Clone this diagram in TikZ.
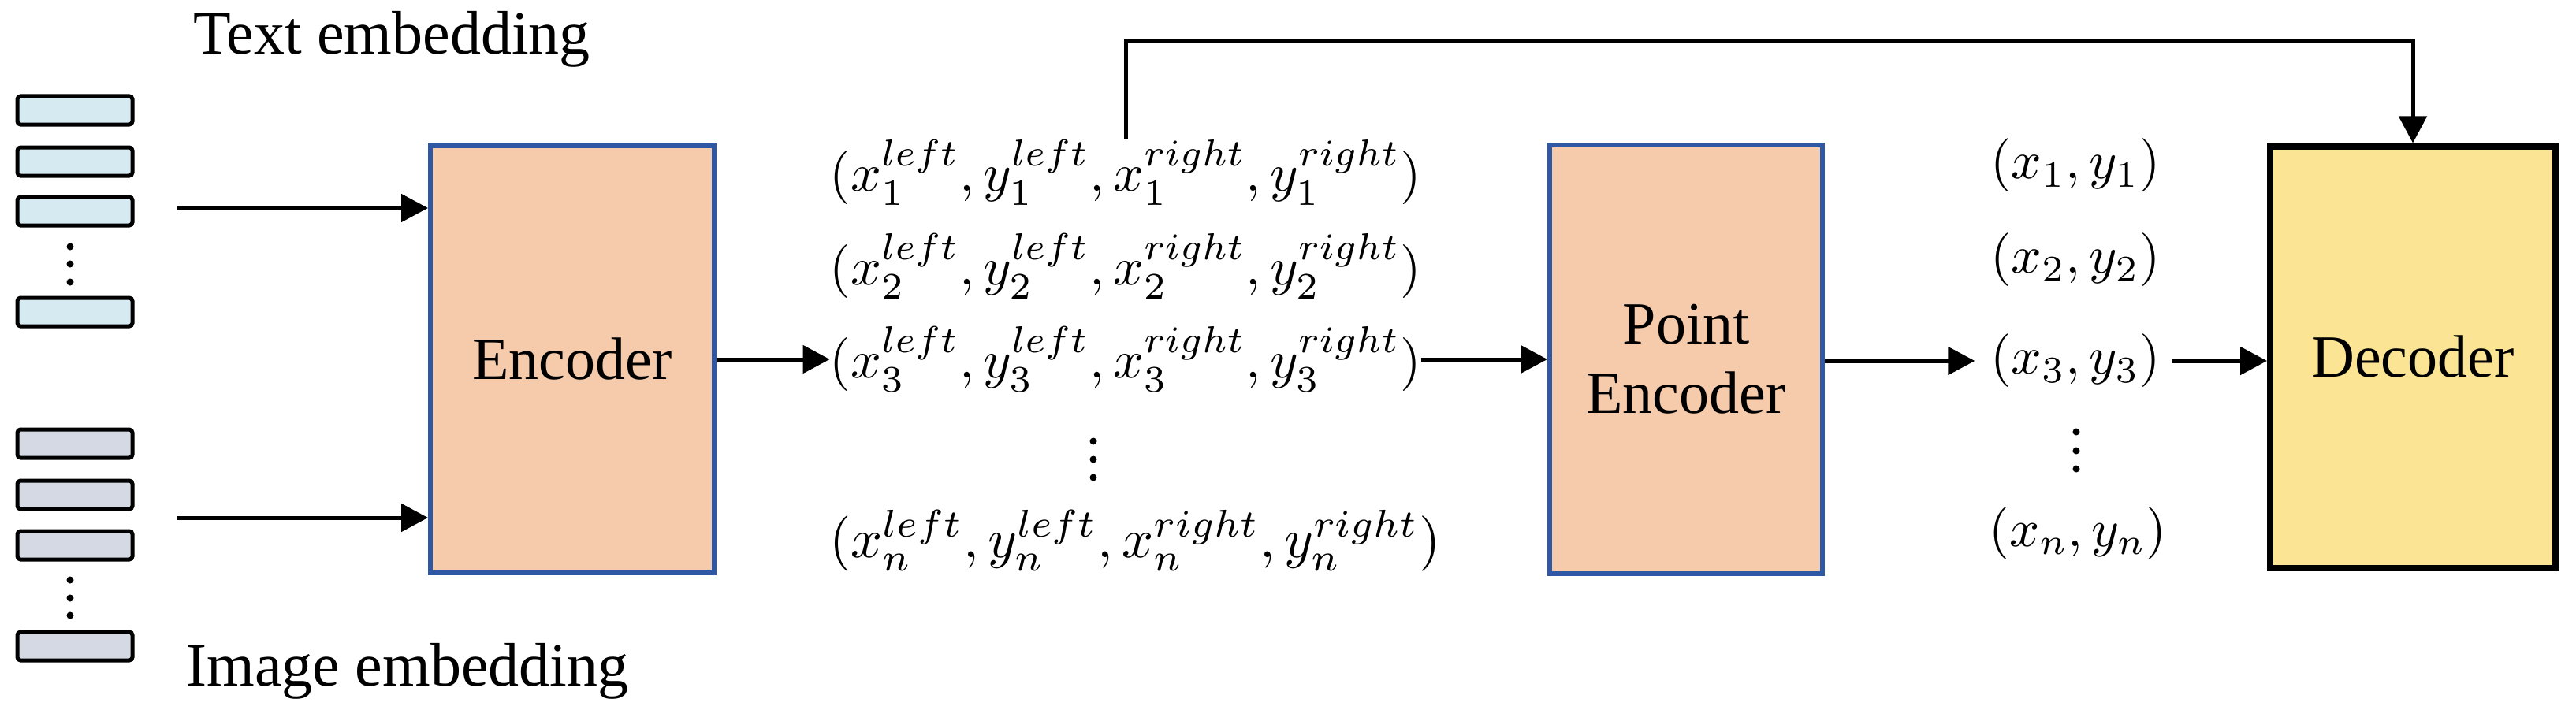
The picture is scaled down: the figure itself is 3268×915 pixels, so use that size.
\documentclass[tikz,border=0pt]{standalone}
\usepackage{graphicx}
\usepackage{fontspec}
\setmainfont{Liberation Serif}
\usetikzlibrary{arrows.meta}
\definecolor{tbox}{HTML}{D6EAF2}
\definecolor{ibox}{HTML}{D5D9E3}
\definecolor{encfill}{HTML}{F5CBAC}
\definecolor{encdraw}{HTML}{2F58A4}
\definecolor{decfill}{HTML}{FBE595}
\begin{document}
\begin{tikzpicture}[x=1pt,y=-1pt,
  emb/.style={draw=black,line width=5pt,rounded corners=4pt,minimum width=146pt,minimum height=36pt,inner sep=0pt},
  blk/.style={line width=6pt,inner sep=0pt,font=\fontsize{76}{88}\selectfont,align=center},
  lbl/.style={inner sep=0pt,font=\fontsize{78}{88}\selectfont},
  tup/.style={inner sep=0pt},
  arr/.style={line width=5pt,-{Triangle[length=34pt,width=35pt]}},
  dot/.style={circle,fill=black,inner sep=0pt,minimum size=9pt}]
\useasboundingbox (0,0) rectangle (3268,915);
% text embedding stack
\foreach \y/\n in {140/t1,205/t2,268/t3,396/t4}{\node[emb,fill=tbox] (\n) at (95,\y) {};}
\foreach \y/\n in {563/i1,628/i2,692/i3,820/i4}{\node[emb,fill=ibox] (\n) at (95,\y) {};}
\foreach \y/\n in {313/td1,335/td2,358/td3,736/id1,759/id2,781/id3}{\node[dot] (\n) at (89,\y) {};}
\node[lbl] (tl) at (497,50) {Text embedding};
\node[lbl] (il) at (517,852) {Image embedding};
% encoder
\node[blk,draw=encdraw,fill=encfill,minimum width=360pt,minimum height=542pt] (enc) at (726,456) {Encoder};
\coordinate (ta) at (225,264);
\coordinate (ia) at (225,657);
\draw[arr] (ta) -- (ta -| enc.west);
\draw[arr] (ia) -- (ia -| enc.west);
% left tuples
\node[tup] (r1) at (1428,219) {\resizebox{750pt}{!}{$(x_1^{left},y_1^{left},x_1^{right},y_1^{right})$}};
\node[tup] (r2) at (1428,338) {\resizebox{750pt}{!}{$(x_2^{left},y_2^{left},x_2^{right},y_2^{right})$}};
\node[tup] (r3) at (1428,456) {\resizebox{750pt}{!}{$(x_3^{left},y_3^{left},x_3^{right},y_3^{right})$}};
\node[tup] (rn) at (1440,686) {\resizebox{775pt}{!}{$(x_n^{left},y_n^{left},x_n^{right},y_n^{right})$}};
\foreach \y/\n in {560/rd1,583/rd2,606/rd3}{\node[dot] (\n) at (1387,\y) {};}
\draw[arr] (enc.east |- r3) -- (r3.west);
% point encoder
\node[blk,draw=encdraw,fill=encfill,minimum width=346pt,minimum height=544pt] (pe) at (2139,456) {Point\\Encoder};
\draw[arr] (r3.east) -- (r3.east -| pe.west);
% right tuples
\node[tup] (p1) at (2633,210) {\resizebox{215pt}{!}{$(x_1,y_1)$}};
\node[tup] (p2) at (2633,330) {\resizebox{215pt}{!}{$(x_2,y_2)$}};
\node[tup] (p3) at (2633,458) {\resizebox{215pt}{!}{$(x_3,y_3)$}};
\node[tup] (pn) at (2636,677) {\resizebox{225pt}{!}{$(x_n,y_n)$}};
\foreach \y/\n in {548/pd1,572/pd2,595/pd3}{\node[dot] (\n) at (2634,\y) {};}
\draw[arr] (pe.east |- p3) -- ([xshift=-20pt]p3.west);
% decoder
\node[blk,draw=black,line width=8pt,fill=decfill,minimum width=362pt,minimum height=535pt] (dec) at (3061,453) {Decoder};
\draw[arr] ([xshift=15pt]p3.east) -- (p3.east -| dec.west);
\coordinate (tp) at (1428,52);
\draw[arr] (r1.north -| tp) -- (tp) -| (dec.north);
\end{tikzpicture}
\end{document}
